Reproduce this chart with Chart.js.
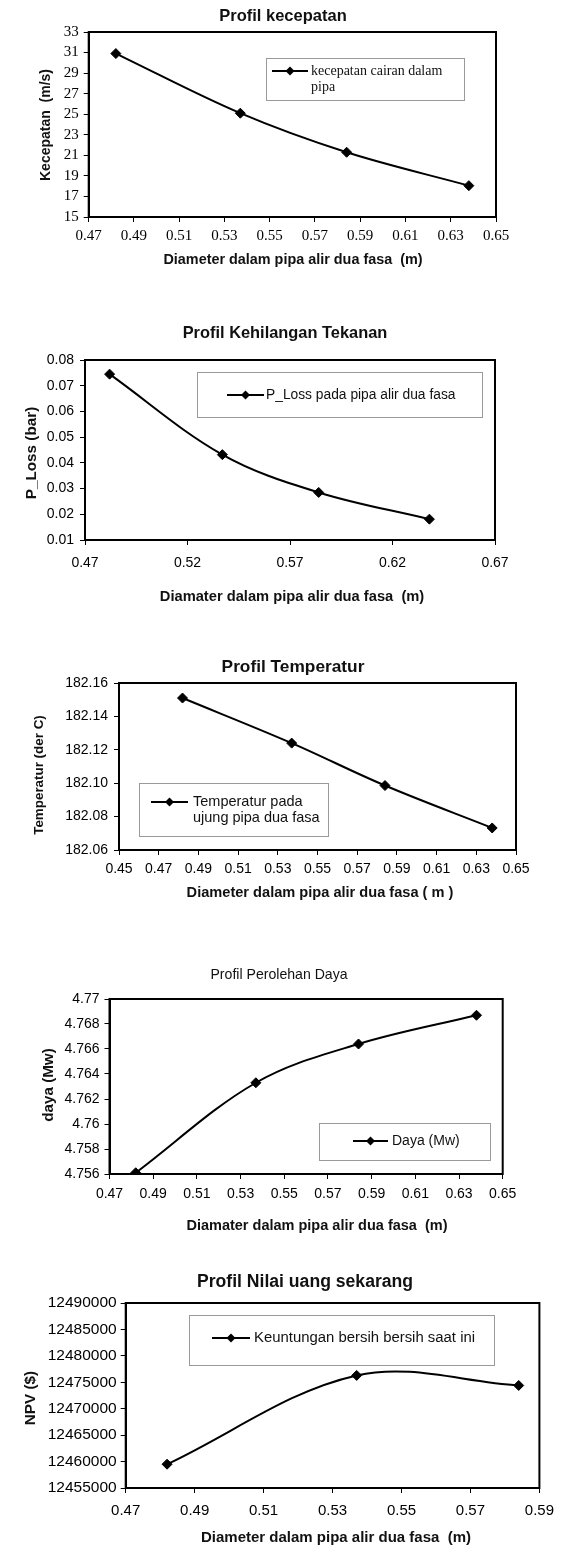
<!DOCTYPE html>
<html>
<head>
<meta charset="utf-8">
<script src="https://cdn.jsdelivr.net/npm/chart.js@4.4.1/dist/chart.umd.min.js"></script>
<style>
  html, body { margin: 0; padding: 0; background: #fff; }
  #page { position: relative; width: 563px; height: 1548px; overflow: hidden; }
  #page canvas { position: absolute; left: 0; display: block; }
</style>
</head>
<body>
<div id="page">
  <canvas id="c1" width="563" height="290" style="top:0px"></canvas>
  <canvas id="c2" width="563" height="320" style="top:290px"></canvas>
  <canvas id="c3" width="563" height="295" style="top:610px"></canvas>
  <canvas id="c4" width="563" height="340" style="top:905px"></canvas>
  <canvas id="c5" width="563" height="303" style="top:1245px"></canvas>
</div>
<script>
// data
const diameter = [0.482, 0.537, 0.584, 0.638];
const diameterNpv = [0.482, 0.537, 0.584];
const kecepatan = [30.9, 25.1, 21.3, 18.05];
const pLoss = [0.0745, 0.0432, 0.0285, 0.0181];
const temperatur = [182.151, 182.124, 182.0986, 182.0732];
const daya = [4.7561, 4.7633, 4.7664, 4.7687];
const npv = [12459500, 12476300, 12474400];

// axis ranges [min, max, step]
const xKecepatan = [0.47, 0.65, 0.02];
const yKecepatan = [15, 33, 2];
const xPLoss = [0.47, 0.67, 0.05];
const yPLoss = [0.01, 0.08, 0.01];
const xTemperatur = [0.45, 0.65, 0.02];
const yTemperatur = [182.06, 182.16, 0.02];
const xDaya = [0.47, 0.65, 0.02];
const yDaya = [4.756, 4.77, 0.002];
const xNpv = [0.47, 0.59, 0.02];
const yNpv = [12455000, 12490000, 5000];

Chart.defaults.color = '#000';
Chart.defaults.font.family = '"Liberation Sans", Arial, sans-serif';

const SANS = '"Liberation Sans", Arial, sans-serif';

// frame round the plot area, titles and the in-plot legend box
const decor = {
  id: 'decor',
  afterDraw(chart, args, o) {
    const { ctx, chartArea: a } = chart;
    ctx.save();
    ctx.strokeStyle = '#000';
    ctx.lineWidth = 2;
    ctx.strokeRect(a.left, a.top, a.right - a.left, a.bottom - a.top);

    ctx.fillStyle = '#111';
    ctx.textBaseline = 'middle';
    ctx.textAlign = 'center';
    for (const t of [o.title, o.xTitle]) {
      ctx.font = t[3];
      ctx.fillText(t[0], t[1], t[2]);
    }
    const yt = o.yTitle;
    ctx.save();
    ctx.translate(yt[1], yt[2]);
    ctx.rotate(-Math.PI / 2);
    ctx.font = yt[3];
    ctx.fillText(yt[0], 0, 0);
    ctx.restore();

    const lg = o.legend;
    const [bx1, by1, bx2, by2] = lg.box;
    ctx.strokeStyle = '#9a9a9a';
    ctx.lineWidth = 1;
    ctx.strokeRect(bx1 + 0.5, by1 + 0.5, bx2 - bx1, by2 - by1);
    const [lx1, lx2, ly] = lg.line;
    ctx.strokeStyle = '#000';
    ctx.lineWidth = 2;
    ctx.beginPath();
    ctx.moveTo(lx1, ly);
    ctx.lineTo(lx2, ly);
    ctx.stroke();
    const mx = (lx1 + lx2) / 2, r = 4.5;
    ctx.beginPath();
    ctx.moveTo(mx, ly - r);
    ctx.lineTo(mx + r, ly);
    ctx.lineTo(mx, ly + r);
    ctx.lineTo(mx - r, ly);
    ctx.closePath();
    ctx.fillStyle = '#000';
    ctx.fill();
    ctx.fillStyle = '#111';
    ctx.textAlign = 'left';
    ctx.font = lg.font;
    lg.text.forEach((s, i) => ctx.fillText(s, lg.textX, ly + i * lg.gap));
    ctx.restore();
  }
};

function makeChart(id, xs, ys, xr, yr, c) {
  const canvas = document.getElementById(id);
  const pts = xs.map((x, i) => ({ x: x, y: ys[i] }));
  const tickGrid = { display: true, drawOnChartArea: false, drawTicks: true, tickLength: 5, color: '#000', lineWidth: 1 };
  return new Chart(canvas, {
    type: 'line',
    data: {
      datasets: [{
        data: pts,
        borderColor: '#000',
        backgroundColor: '#000',
        borderWidth: 2,
        tension: 0.35,
        pointStyle: 'rectRot',
        pointRadius: 5,
        pointBorderWidth: 1,
      }],
    },
    options: {
      responsive: false,
      animation: false,
      layout: { padding: { left: 0, top: c.plot[1], right: canvas.width - c.plot[2], bottom: 0 } },
      scales: {
        x: {
          type: 'linear',
          min: xr[0], max: xr[1],
          grid: tickGrid,
          border: { display: true, color: '#000', width: 2 },
          ticks: {
            stepSize: xr[2], autoSkip: false, maxRotation: 0,
            padding: c.xPad, font: c.xFont,
            callback: c.xFmt || (v => v.toFixed(2)),
          },
          afterFit(s) { s.height = canvas.height - c.plot[3]; },
        },
        y: {
          min: yr[0], max: yr[1],
          grid: tickGrid,
          border: { display: true, color: '#000', width: 2 },
          ticks: {
            stepSize: yr[2], autoSkip: false,
            padding: c.yPad, font: c.yFont,
            callback: c.yFmt,
          },
          afterFit(s) { s.width = c.plot[0]; },
        },
      },
      plugins: {
        legend: { display: false },
        tooltip: { enabled: false },
        decor: c.decor,
      },
    },
    plugins: [decor],
  });
}

// Profil kecepatan
makeChart('c1', diameter, kecepatan, xKecepatan, yKecepatan, {
  plot: [88.7, 32, 496, 217],
  xPad: 5, yPad: 5,
  xFont: { family: '"Liberation Serif", serif', size: 15 },
  yFont: { family: '"Liberation Serif", serif', size: 15 },
  yFmt: v => String(Math.round(v)),
  decor: {
    title: ['Profil kecepatan', 283, 16, 'bold 16.5px ' + SANS],
    xTitle: ['Diameter dalam pipa alir dua fasa  (m)', 293, 260, 'bold 14.4px ' + SANS],
    yTitle: ['Kecepatan  (m/s)', 46, 125, 'bold 14px ' + SANS],
    legend: {
      box: [266, 58, 464, 100], line: [272, 308, 71],
      text: ['kecepatan cairan dalam', 'pipa'], textX: 311, gap: 16,
      font: '14px "Liberation Serif", serif',
    },
  },
});

// Profil Kehilangan Tekanan
makeChart('c2', diameter, pLoss, xPLoss, yPLoss, {
  plot: [85, 70, 495, 250],
  xPad: 10, yPad: 6,
  xFont: { size: 14 }, yFont: { size: 14 },
  yFmt: v => v.toFixed(2),
  decor: {
    title: ['Profil Kehilangan Tekanan', 285, 43, 'bold 16.4px ' + SANS],
    xTitle: ['Diamater dalam pipa alir dua fasa  (m)', 292, 307, 'bold 14.7px ' + SANS],
    yTitle: ['P_Loss (bar)', 32, 163, 'bold 15.3px ' + SANS],
    legend: {
      box: [197, 82, 482, 127], line: [227, 264, 105],
      text: ['P_Loss pada pipa alir dua fasa'], textX: 266, gap: 16,
      font: '13.8px ' + SANS,
    },
  },
});

// Profil Temperatur
makeChart('c3', diameter, temperatur, xTemperatur, yTemperatur, {
  plot: [119, 73, 516, 240],
  xPad: 6, yPad: 6,
  xFont: { size: 14 }, yFont: { size: 14 },
  yFmt: v => v.toFixed(2),
  decor: {
    title: ['Profil Temperatur', 293, 57, 'bold 17.3px ' + SANS],
    xTitle: ['Diameter dalam pipa alir dua fasa ( m )', 320, 283, 'bold 14.6px ' + SANS],
    yTitle: ['Temperatur (der C)', 39.5, 165, 'bold 13.4px ' + SANS],
    legend: {
      box: [139, 173, 328, 226], line: [151, 188, 192],
      text: ['Temperatur pada', 'ujung pipa dua fasa'], textX: 193, gap: 16,
      font: '14.5px ' + SANS,
    },
  },
});

// Profil Perolehan Daya
makeChart('c4', diameter, daya, xDaya, yDaya, {
  plot: [109.5, 94, 502.7, 269],
  xPad: 7, yPad: 5,
  xFont: { size: 14 }, yFont: { size: 14 },
  yFmt: v => String(+v.toFixed(3)),
  decor: {
    title: ['Profil Perolehan Daya', 279, 70, '14.1px ' + SANS],
    xTitle: ['Diamater dalam pipa alir dua fasa  (m)', 317, 321, 'bold 14.5px ' + SANS],
    yTitle: ['daya (Mw)', 48.5, 180, 'bold 15.2px ' + SANS],
    legend: {
      box: [319, 218, 490, 255], line: [353, 388, 236],
      text: ['Daya (Mw)'], textX: 392, gap: 16,
      font: '14px ' + SANS,
    },
  },
});

// Profil Nilai uang sekarang
makeChart('c5', diameterNpv, npv, xNpv, yNpv, {
  plot: [125.7, 58, 540, 243],
  xPad: 9, yPad: 4,
  xFont: { size: 15 }, yFont: { size: 15.5 },
  yFmt: v => String(Math.round(v)),
  decor: {
    title: ['Profil Nilai uang sekarang', 305, 37, 'bold 17.6px ' + SANS],
    xTitle: ['Diameter dalam pipa alir dua fasa  (m)', 336, 293, 'bold 15px ' + SANS],
    yTitle: ['NPV ($)', 30.5, 153, 'bold 15.3px ' + SANS],
    legend: {
      box: [189, 70, 494, 120], line: [212, 250, 93],
      text: ['Keuntungan bersih bersih saat ini'], textX: 254, gap: 16,
      font: '14.9px ' + SANS,
    },
  },
});
</script>
</body>
</html>
